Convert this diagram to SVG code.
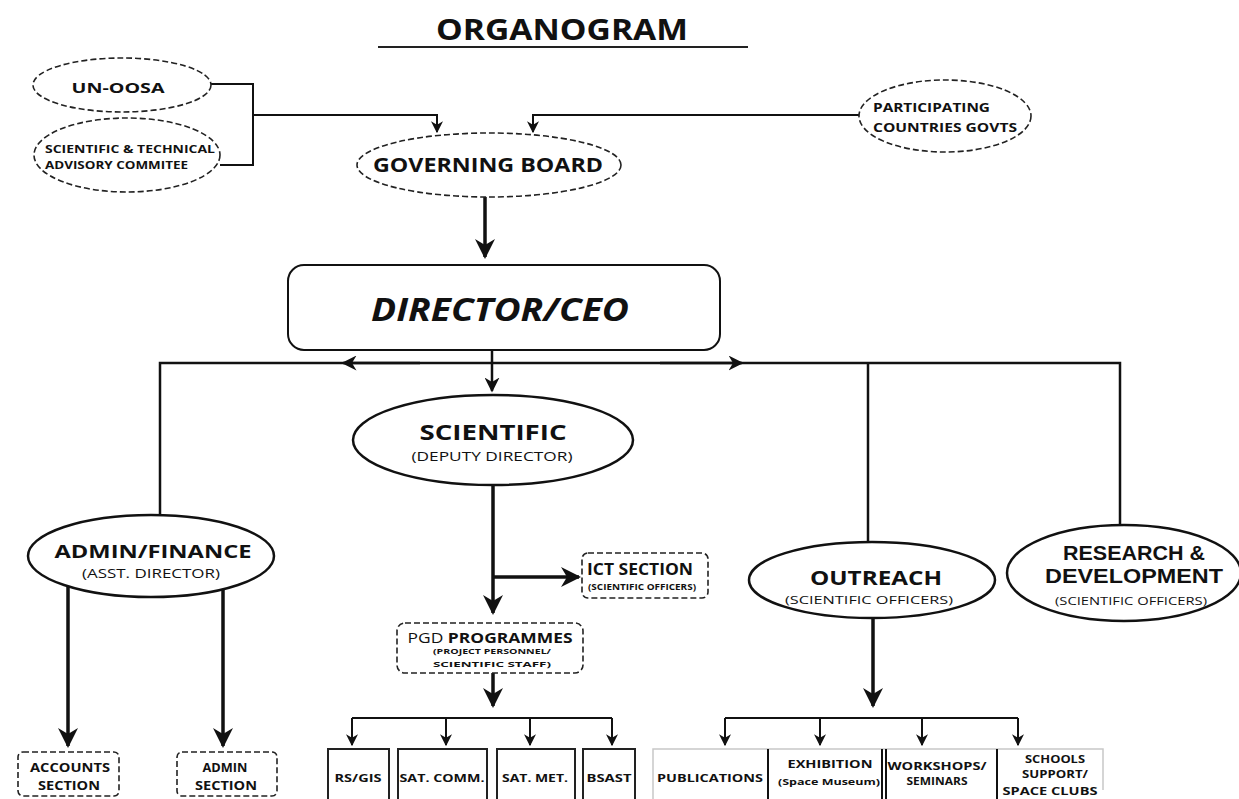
<svg xmlns="http://www.w3.org/2000/svg" width="1239" height="799" viewBox="0 0 1239 799">
<style>
text{font-family:"Open Sans","Liberation Sans",sans-serif;font-weight:700;fill:#111;text-anchor:middle}
.dash{fill:#fff;stroke:#222;stroke-width:1.6;stroke-dasharray:6 3}
.solid{fill:#fff;stroke:#111;stroke-width:2.5}
.box{fill:#fff;stroke:#222;stroke-width:2}
.ln{fill:none;stroke:#111;stroke-width:2.5}
.thk{fill:none;stroke:#111;stroke-width:3.5}
.thn{fill:none;stroke:#111;stroke-width:2}
.gry{fill:none;stroke:#c8c8c8;stroke-width:1.5}
.lt{font-weight:400}
.lib{font-family:"Liberation Sans",Arial,sans-serif}
</style>
<defs>
<marker id="ahL" viewBox="0 0 10 10" refX="9" refY="5" markerWidth="20" markerHeight="20" markerUnits="userSpaceOnUse" orient="auto"><path d="M0,0 L10,5 L0,10 L3,5 z" fill="#111"/></marker>
<marker id="ahM" viewBox="0 0 10 10" refX="9" refY="5" markerWidth="15" markerHeight="15" markerUnits="userSpaceOnUse" orient="auto"><path d="M0,0 L10,5 L0,10 L3,5 z" fill="#111"/></marker>
<marker id="ahS" viewBox="0 0 10 10" refX="9" refY="5" markerWidth="12" markerHeight="12" markerUnits="userSpaceOnUse" orient="auto"><path d="M0,0 L10,5 L0,10 L3,5 z" fill="#111"/></marker>
</defs>
<rect width="1239" height="799" fill="#fff"/>

<g id="title">
<text x="562" y="40" font-size="28" textLength="252" lengthAdjust="spacingAndGlyphs">ORGANOGRAM</text>
<line x1="378" y1="47" x2="748" y2="47" stroke="#222" stroke-width="2"/>
</g>

<g id="connectors">
<path class="thn" d="M210,84 H253 V165 H220"/>
<path class="thn" d="M253,115 H437 V132" marker-end="url(#ahS)"/>
<path class="thn" d="M860,115 H533 V132" marker-end="url(#ahS)"/>
<path class="thk" d="M485,197 V257" marker-end="url(#ahL)"/>
<path class="ln" d="M160,515 V363 H1120 V525"/>
<path class="ln" d="M868,363 V542"/>
<path class="ln" d="M420,363 H343" marker-end="url(#ahM)"/>
<path class="ln" d="M660,363 H742" marker-end="url(#ahM)"/>
<path class="ln" d="M492,350 V391" marker-end="url(#ahM)"/>
<path class="thk" d="M493,485 V613" marker-end="url(#ahL)"/>
<path class="thk" d="M493,577 H579" marker-end="url(#ahL)"/>
<path class="thk" d="M493,673 V706" marker-end="url(#ahL)"/>
<path class="thn" d="M352,718 H612"/>
<path class="thn" d="M352,718 V745" marker-end="url(#ahS)"/>
<path class="thn" d="M446,718 V745" marker-end="url(#ahS)"/>
<path class="thn" d="M530,718 V745" marker-end="url(#ahS)"/>
<path class="thn" d="M612,718 V745" marker-end="url(#ahS)"/>
<path class="thk" d="M68,585 V746" marker-end="url(#ahL)"/>
<path class="thk" d="M223,585 V746" marker-end="url(#ahL)"/>
<path class="thk" d="M873,618 V706" marker-end="url(#ahL)"/>
<path class="thn" d="M725,718 H1018"/>
<path class="thn" d="M725,718 V745" marker-end="url(#ahS)"/>
<path class="thn" d="M820,718 V745" marker-end="url(#ahS)"/>
<path class="thn" d="M922,718 V745" marker-end="url(#ahS)"/>
<path class="thn" d="M1018,718 V745" marker-end="url(#ahS)"/>
</g>

<g id="unoosa">
<ellipse class="dash" cx="122" cy="85" rx="89" ry="27"/>
<text x="118" y="93" font-size="14" textLength="93" lengthAdjust="spacingAndGlyphs">UN-OOSA</text>
</g>
<g id="stac">
<ellipse class="dash" cx="127" cy="155" rx="93" ry="37"/>
<text x="45" y="153" font-size="10" textLength="170" lengthAdjust="spacingAndGlyphs" style="text-anchor:start">SCIENTIFIC &amp; TECHNICAL</text>
<text x="45" y="169" font-size="10" textLength="143" lengthAdjust="spacingAndGlyphs" style="text-anchor:start">ADVISORY COMMITEE</text>
</g>
<g id="participating">
<ellipse class="dash" cx="945" cy="116" rx="86" ry="36"/>
<text x="873" y="112" font-size="12" textLength="117" lengthAdjust="spacingAndGlyphs" style="text-anchor:start">PARTICIPATING</text>
<text x="873" y="132" font-size="12" textLength="144" lengthAdjust="spacingAndGlyphs" style="text-anchor:start">COUNTRIES GOVTS</text>
</g>
<g id="governing">
<ellipse class="dash" cx="489" cy="165" rx="132" ry="32"/>
<text x="488" y="172" font-size="19" textLength="230" lengthAdjust="spacingAndGlyphs">GOVERNING BOARD</text>
</g>
<g id="director">
<rect x="288" y="265" width="432" height="85" rx="16" fill="#fff" stroke="#111" stroke-width="2"/>
<text x="500" y="321" font-size="33" font-style="italic" textLength="258" lengthAdjust="spacingAndGlyphs">DIRECTOR/CEO</text>
</g>
<g id="scientific">
<ellipse class="solid" cx="493" cy="440" rx="140" ry="45"/>
<text x="493" y="440" font-size="22" textLength="147" lengthAdjust="spacingAndGlyphs">SCIENTIFIC</text>
<text class="lt" x="492" y="461" font-size="13" textLength="161" lengthAdjust="spacingAndGlyphs">(DEPUTY DIRECTOR)</text>
</g>
<g id="admin">
<ellipse class="solid" cx="151" cy="556" rx="123" ry="41"/>
<text x="153" y="558" font-size="18" textLength="197" lengthAdjust="spacingAndGlyphs">ADMIN/FINANCE</text>
<text class="lt" x="151" y="578" font-size="12" textLength="138" lengthAdjust="spacingAndGlyphs">(ASST. DIRECTOR)</text>
</g>
<g id="outreach">
<ellipse class="solid" cx="872" cy="580" rx="123" ry="38"/>
<text x="876" y="585" font-size="19" textLength="132" lengthAdjust="spacingAndGlyphs">OUTREACH</text>
<text class="lt" x="869" y="604" font-size="11" textLength="168" lengthAdjust="spacingAndGlyphs">(SCIENTIFIC OFFICERS)</text>
</g>
<g id="research">
<ellipse class="solid" cx="1124" cy="573" rx="117" ry="48"/>
<text class="lib" x="1134" y="560" font-size="20" textLength="142" lengthAdjust="spacingAndGlyphs">RESEARCH &amp;</text>
<text class="lib" x="1134" y="583" font-size="20" textLength="178" lengthAdjust="spacingAndGlyphs">DEVELOPMENT</text>
<text class="lt" x="1131" y="605" font-size="10.5" textLength="152" lengthAdjust="spacingAndGlyphs">(SCIENTIFIC OFFICERS)</text>
</g>
<g id="ict">
<rect class="dash" x="582" y="553" width="126" height="45" rx="6"/>
<text x="640" y="575" font-size="16" textLength="106" lengthAdjust="spacingAndGlyphs">ICT SECTION</text>
<text x="642" y="590" font-size="8" textLength="108" lengthAdjust="spacingAndGlyphs">(SCIENTIFIC OFFICERS)</text>
</g>
<g id="pgd">
<rect class="dash" x="397" y="623" width="186" height="50" rx="8"/>
<text x="490" y="643" font-size="15" textLength="165" lengthAdjust="spacingAndGlyphs"><tspan class="lt">PGD </tspan>PROGRAMMES</text>
<text x="492" y="654" font-size="7.5" textLength="118" lengthAdjust="spacingAndGlyphs">(PROJECT PERSONNEL/</text>
<text x="492" y="667" font-size="7.5" textLength="118" lengthAdjust="spacingAndGlyphs">SCIENTIFIC STAFF)</text>
</g>
<g id="accounts">
<rect class="dash" x="18" y="752" width="101" height="44" rx="5"/>
<text x="70" y="772" font-size="12" textLength="80" lengthAdjust="spacingAndGlyphs">ACCOUNTS</text>
<text x="69" y="790" font-size="12" textLength="62" lengthAdjust="spacingAndGlyphs">SECTION</text>
</g>
<g id="adminsection">
<rect class="dash" x="177" y="752" width="100" height="44" rx="5"/>
<text x="225" y="772" font-size="12" textLength="45" lengthAdjust="spacingAndGlyphs">ADMIN</text>
<text x="226" y="790" font-size="12" textLength="62" lengthAdjust="spacingAndGlyphs">SECTION</text>
</g>
<g id="rsgis">
<rect class="box" x="328" y="749" width="61" height="56"/>
<text x="358" y="782" font-size="11" textLength="47" lengthAdjust="spacingAndGlyphs">RS/GIS</text>
</g>
<g id="satcomm">
<rect class="box" x="398" y="749" width="89" height="56"/>
<text x="442" y="782" font-size="11" textLength="85" lengthAdjust="spacingAndGlyphs">SAT. COMM.</text>
</g>
<g id="satmet">
<rect class="box" x="497" y="749" width="78" height="56"/>
<text x="535" y="782" font-size="11" textLength="66" lengthAdjust="spacingAndGlyphs">SAT. MET.</text>
</g>
<g id="bsast">
<rect class="box" x="583" y="749" width="52" height="56"/>
<text x="609" y="782" font-size="11" textLength="45" lengthAdjust="spacingAndGlyphs">BSAST</text>
</g>
<g id="outreachboxes">
<path class="gry" d="M653,800 V749 H1103 V790"/>
<path class="thn" d="M768,749 V799 M882,749 V799 M886,749 V799 M997,749 V799"/>
</g>
<g id="publications">
<text x="710" y="782" font-size="11" textLength="106" lengthAdjust="spacingAndGlyphs">PUBLICATIONS</text>
</g>
<g id="exhibition">
<text x="830" y="768" font-size="11" textLength="85" lengthAdjust="spacingAndGlyphs">EXHIBITION</text>
<text x="829" y="785" font-size="9" textLength="102" lengthAdjust="spacingAndGlyphs">(Space Museum)</text>
</g>
<g id="workshops">
<text x="937" y="770" font-size="11" textLength="99" lengthAdjust="spacingAndGlyphs">WORKSHOPS/</text>
<text x="937" y="785" font-size="11" textLength="61" lengthAdjust="spacingAndGlyphs">SEMINARS</text>
</g>
<g id="schools">
<text x="1055" y="763" font-size="11" textLength="60" lengthAdjust="spacingAndGlyphs">SCHOOLS</text>
<text x="1055" y="778" font-size="11" textLength="66" lengthAdjust="spacingAndGlyphs">SUPPORT/</text>
<text x="1050" y="795" font-size="11" textLength="95" lengthAdjust="spacingAndGlyphs">SPACE CLUBS</text>
</g>
</svg>
